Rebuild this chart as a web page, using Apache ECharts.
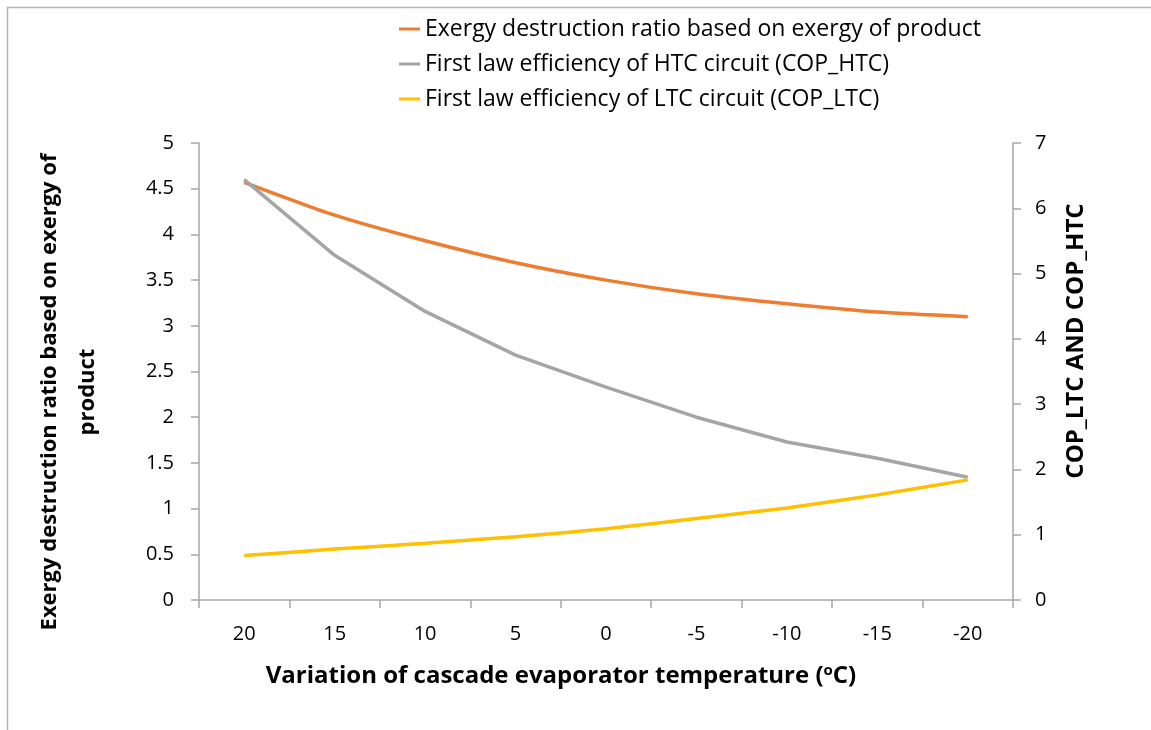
<!DOCTYPE html>
<html>
<head>
<meta charset="utf-8">
<script src="https://cdn.jsdelivr.net/npm/echarts@6/dist/echarts.min.js"></script>
<style>
html,body{margin:0;padding:0;background:#fff;}
#chart{width:1151px;height:730px;}
</style>
</head>
<body>
<div id="chart"></div>
<script>
// Data
var categories = ['20', '15', '10', '5', '0', '-5', '-10', '-15', '-20'];
// left axis (exergy destruction ratio)
var exergyRatio = [4.57, 4.21, 3.93, 3.69, 3.50, 3.35, 3.24, 3.15, 3.10];
// right axis (COP)
var copHTC = [6.44, 5.28, 4.42, 3.75, 3.26, 2.80, 2.42, 2.17, 1.88];
var copLTC = [0.68, 0.78, 0.87, 0.97, 1.09, 1.25, 1.41, 1.61, 1.84];
var seriesNames = [
  'Exergy destruction ratio based on exergy of product',
  'First law efficiency of HTC circuit (COP_HTC)',
  'First law efficiency of LTC circuit (COP_LTC)'
];
var leftTitle = 'Exergy destruction ratio based on exergy of\nproduct';
var rightTitle = 'COP_LTC AND COP_HTC';
var xTitle = 'Variation of cascade evaporator temperature (';

var FONT = '"Open Sans", "Noto Sans", sans-serif';
var axisColor = '#a6a6a6';
var textColor = '#000';

var chart = echarts.init(document.getElementById('chart'), null, {renderer: 'canvas'});
chart.setOption({
  animation: false,
  backgroundColor: '#fff',
  grid: {left: 199, right: 138, top: 143, bottom: 130, containLabel: false},
  legend: {
    orient: 'vertical',
    left: 399,
    top: 17,
    padding: 0,
    icon: 'rect',
    itemWidth: 21,
    itemHeight: 3,
    itemGap: 11,
    textStyle: {fontFamily: FONT, fontSize: 23, color: textColor, lineHeight: 24},
    data: seriesNames
  },
  xAxis: {
    type: 'category',
    data: categories,
    boundaryGap: true,
    axisLine: {show: true, lineStyle: {color: axisColor, width: 1.5}},
    axisTick: {show: true, length: 8, lineStyle: {color: axisColor, width: 1.5}},
    axisLabel: {fontFamily: FONT, fontSize: 20, color: textColor, margin: 24},
    splitLine: {show: false}
  },
  yAxis: [{
    type: 'value',
    min: 0, max: 5, interval: 0.5,
    position: 'left',
    axisLine: {show: true, lineStyle: {color: axisColor, width: 1.5}},
    axisTick: {show: true, length: 8, lineStyle: {color: axisColor, width: 1.5}},
    axisLabel: {fontFamily: FONT, fontSize: 20, color: textColor, margin: 25},
    splitLine: {show: false}
  }, {
    type: 'value',
    min: 0, max: 7, interval: 1,
    position: 'right',
    axisLine: {show: true, lineStyle: {color: axisColor, width: 1.5}},
    axisTick: {show: true, length: 8, lineStyle: {color: axisColor, width: 1.5}},
    axisLabel: {fontFamily: FONT, fontSize: 20, color: textColor, margin: 22},
    splitLine: {show: false}
  }],
  series: [{
    name: seriesNames[0], type: 'line', yAxisIndex: 0, data: exergyRatio,
    showSymbol: false, symbol: 'none', smooth: 0.2,
    lineStyle: {color: '#ed7d31', width: 3.5}, itemStyle: {color: '#ed7d31'}
  }, {
    name: seriesNames[1], type: 'line', yAxisIndex: 1, data: copHTC,
    showSymbol: false, symbol: 'none', smooth: false,
    lineStyle: {color: '#a5a5a5', width: 3.5}, itemStyle: {color: '#a5a5a5'}
  }, {
    name: seriesNames[2], type: 'line', yAxisIndex: 1, data: copLTC,
    showSymbol: false, symbol: 'none', smooth: 0.2,
    lineStyle: {color: '#ffc000', width: 3.5}, itemStyle: {color: '#ffc000'}
  }],
  graphic: [{
    type: 'rect', silent: true,
    shape: {x: 7.5, y: 7.5, width: 1300, height: 900},
    style: {fill: 'none', stroke: '#b4b4b4', lineWidth: 1.5}
  }, {
    type: 'text', silent: true,
    x: 69, y: 392, rotation: Math.PI / 2,
    style: {
      text: leftTitle, fontFamily: FONT, fontWeight: 'bold', fontSize: 22,
      fill: textColor, align: 'center', verticalAlign: 'middle', lineHeight: 38
    }
  }, {
    type: 'text', silent: true,
    x: 1076, y: 341, rotation: Math.PI / 2,
    style: {
      text: rightTitle, fontFamily: FONT, fontWeight: 'bold', fontSize: 24,
      fill: textColor, align: 'center', verticalAlign: 'middle'
    }
  }, {
    type: 'text', silent: true,
    x: 561, y: 676,
    style: {
      text: '{a|' + xTitle + '}{s|o}{a|C)}',
      align: 'center', verticalAlign: 'middle',
      rich: {
        a: {fontFamily: FONT, fontWeight: 'bold', fontSize: 24, fill: textColor, color: textColor},
        s: {fontFamily: FONT, fontWeight: 'bold', fontSize: 15, fill: textColor, color: textColor, verticalAlign: 'top', padding: [0, 0, 10, 0]}
      }
    }
  }]
});
</script>
</body>
</html>
